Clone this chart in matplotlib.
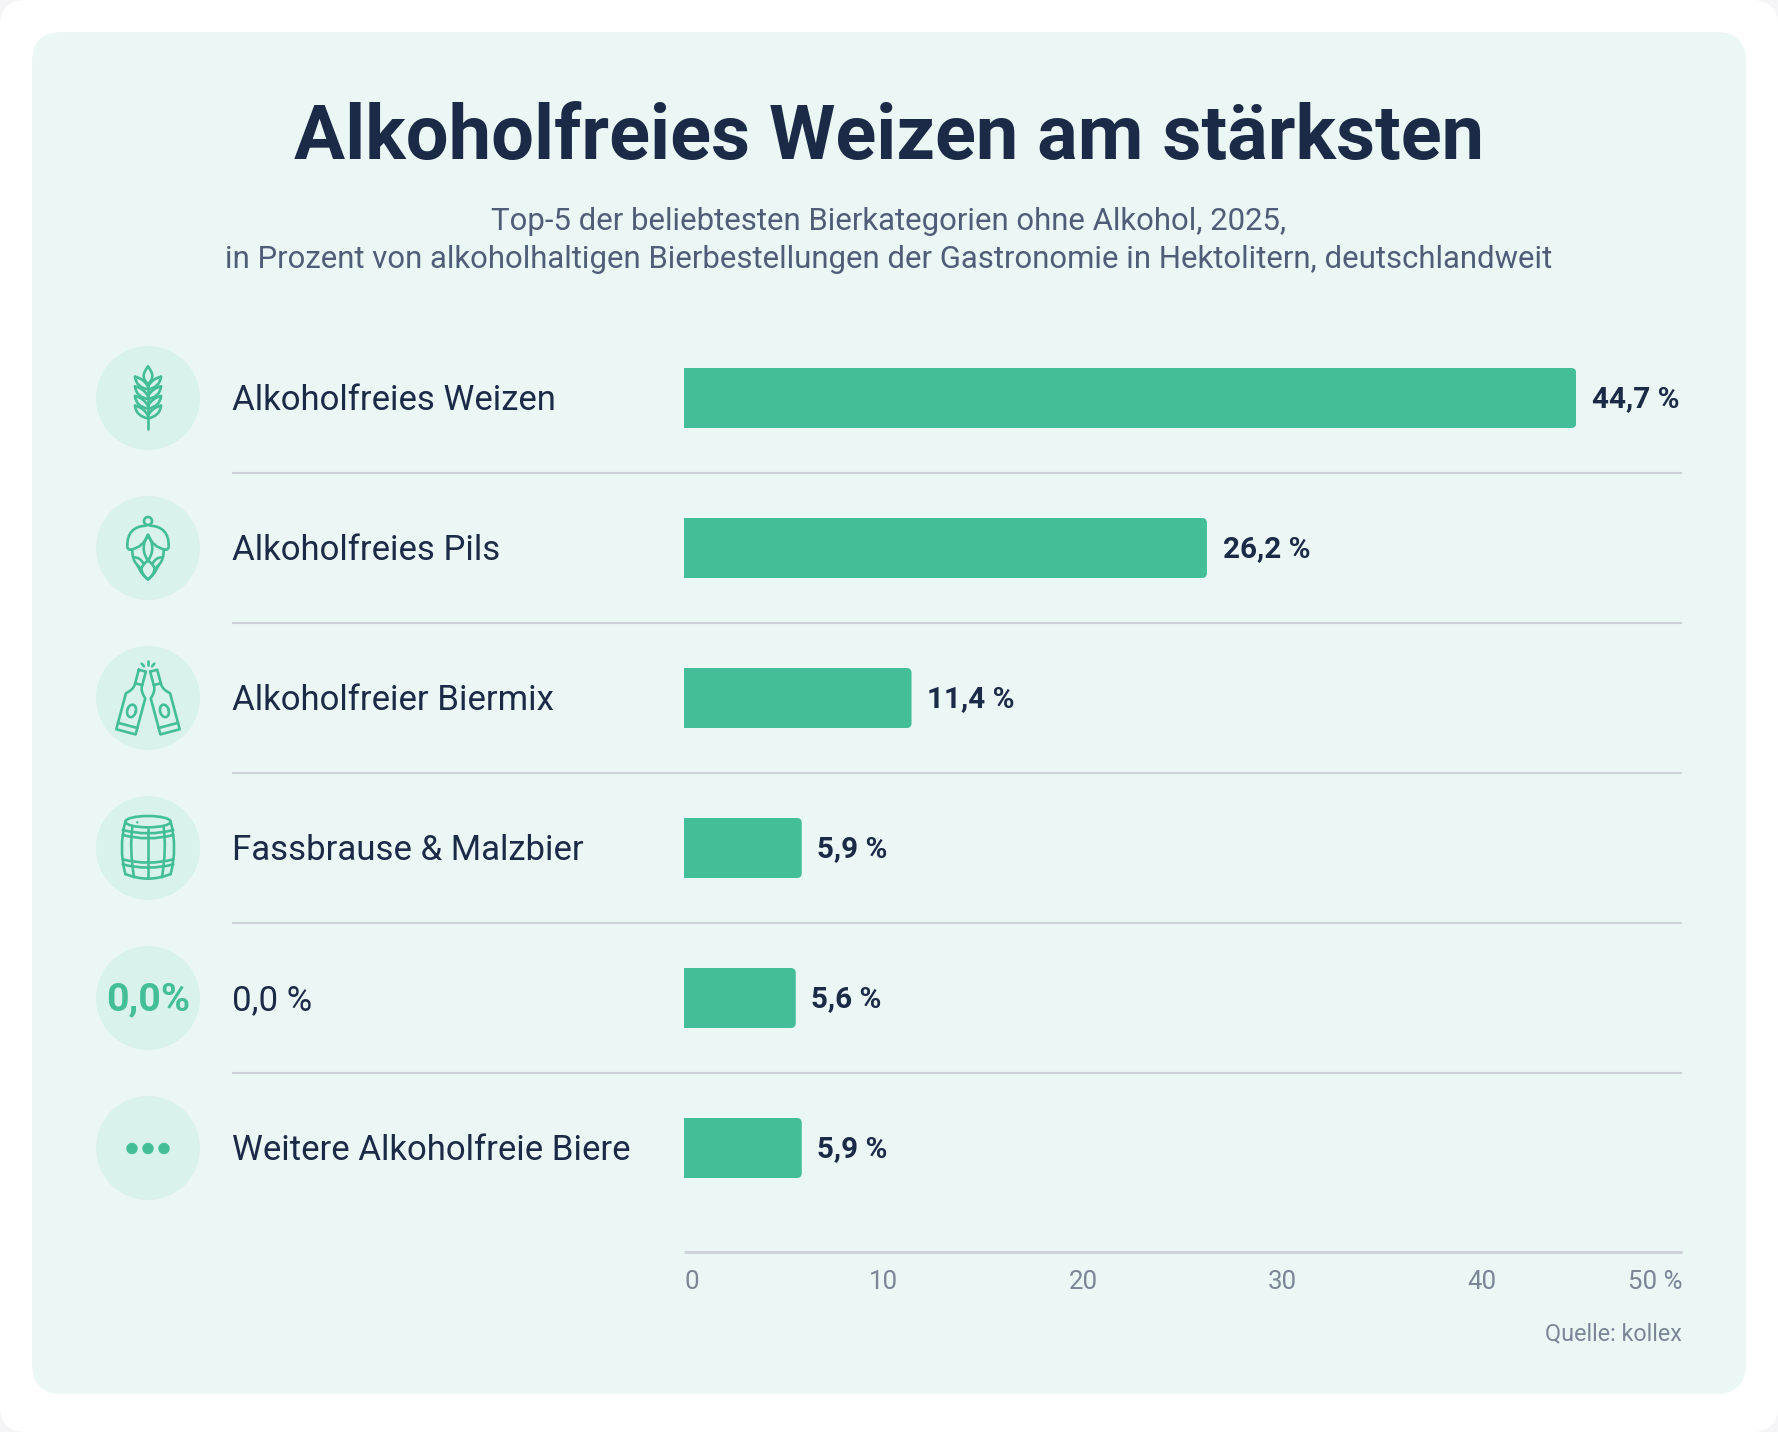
import numpy as np
import matplotlib
matplotlib.use("Agg")
import matplotlib.pyplot as plt
from matplotlib.patches import FancyBboxPatch, Circle, PathPatch, Ellipse
from matplotlib.path import Path
from matplotlib.transforms import ScaledTranslation

W, H = 1778, 1432
categories = ["Alkoholfreies Weizen", "Alkoholfreies Pils", "Alkoholfreier Biermix",
              "Fassbrause & Malzbier", "0,0 %", "Weitere Alkoholfreie Biere"]
values = [44.7, 26.2, 11.4, 5.9, 5.6, 5.9]
value_labels = ["44,7 %", "26,2 %", "11,4 %", "5,9 %", "5,6 %", "5,9 %"]
tick_values = [0, 10, 20, 30, 40, 50]
tick_labels = ["0", "10", "20", "30", "40", "50 %"]
title = "Alkoholfreies Weizen am stärksten"
subtitle = ["Top-5 der beliebtesten Bierkategorien ohne Alkohol, 2025,",
            "in Prozent von alkoholhaltigen Bierbestellungen der Gastronomie in Hektolitern, deutschlandweit"]
source = "Quelle: kollex"

PANEL = "#EBF7F5"; CIRCLE = "#D9F2EB"; GREEN = "#43BE98"; NAVY = "#1B2A47"
SUB = "#4F5D78"; GREY = "#7A8696"; RULE = "#CDD1D8"
FONT = "Roboto"
ICON_LW = 1.9
plt.rcParams["font.family"] = [FONT, "DejaVu Sans"]

fig = plt.figure(figsize=(W / 100, H / 100), dpi=100, facecolor="#F5F5F8")
bg = fig.add_axes([0, 0, 1, 1])
bg.set_xlim(0, W); bg.set_ylim(H, 0); bg.axis("off")

def rbox(ax, x0, y0, x1, y1, r, fc):
    ax.add_patch(FancyBboxPatch((x0, y0), x1 - x0, y1 - y0,
                                boxstyle=f"round,pad=0,rounding_size={r}", fc=fc, ec="none"))

rbox(bg, 0, 0, W, H, 26, "white")
rbox(bg, 32, 32, 1746, 1394, 30, PANEL)

bg.text(889, 138, title, ha="center", va="center", fontsize=54.6, fontweight="bold", color=NAVY)
bg.text(889, 221, subtitle[0], ha="center", va="center", fontsize=22.4, color=SUB)
bg.text(889, 259.5, subtitle[1], ha="center", va="center", fontsize=22.4, color=SUB)
bg.text(1682, 1334, source, ha="right", va="center", fontsize=16.8, color=GREY)

ROW0, STEP, CX, R = 398, 150, 148, 52
for i in range(1, len(categories)):
    yy = ROW0 + STEP * i - 75
    bg.plot([232, 1682], [yy, yy], color=RULE, lw=1.5, solid_capstyle="butt")
for i in range(len(categories)):
    bg.add_patch(Circle((CX, ROW0 + STEP * i), R, fc=CIRCLE, ec="none"))

# --- icons, drawn in crop coordinates of a 3x view -------------------------------
def stroke(off, start, *segs):
    verts, codes = [start], [Path.MOVETO]
    for s in segs:
        if len(s) == 2 and isinstance(s[0], tuple):
            verts += [s[0], s[1]]; codes += [Path.CURVE3, Path.CURVE3]
        else:
            verts.append(s); codes.append(Path.LINETO)
    v = np.array(verts, float) / 3 + np.array(off)
    bg.add_patch(PathPatch(Path(v, codes), fc="none", ec=GREEN, lw=ICON_LW,
                           capstyle="round", joinstyle="round"))

def both(off, start, *segs, axis=264):
    stroke(off, start, *segs)
    m = lambda p: (2 * axis - p[0], p[1])
    ms = [(m(s[0]), m(s[1])) if isinstance(s[0], tuple) else m(s) for s in segs]
    stroke(off, m(start), *ms)

# wheat
o = (60, 320)
stroke(o, (264, 140), ((238, 170), (264, 192)), ((290, 170), (264, 140)))
stroke(o, (264, 192), (264, 328))
for y in (170, 199, 228, 257):
    both(o, (225, y), ((252, y + 6), (264, y + 30)))
    both(o, (225, y), ((228, y + 32), (264, y + 38)))

# hop
o = (60, 470)
bg.add_patch(Circle((60 + 88, 470 + 153 / 3), 4, fc="none", ec=GREEN, lw=ICON_LW))
both(o, (258, 167), ((200, 170), (202, 230)), ((203, 240), (212, 239)), ((250, 232), (264, 195)))
stroke(o, (264, 195), ((238, 235), (264, 272)), ((290, 235), (264, 195)))
both(o, (217, 238), ((216, 270), (232, 285)), ((245, 315), (264, 328)))
both(o, (222, 262), ((240, 262), (250, 280)))
both(o, (264, 272), ((248, 282), (244, 297)), ((248, 318), (264, 328)))
both(o, (232, 285), (244, 297))

# clinking bottles
o = (60, 320)
def bottle(sign):
    a = np.deg2rad(15) * sign
    top = np.array([264 - 17 * sign, 1052.0])
    def t(p):
        u, v = p
        return tuple(top + np.array([u * np.cos(a) - v * np.sin(a), u * np.sin(a) + v * np.cos(a)]))
    stroke(o, t((-11, 0)), t((11, 0)), t((11, 45)), (t((11, 62)), t((30, 78))), t((30, 190)),
           t((-30, 190)), t((-30, 78)), (t((-11, 62)), t((-11, 45))), t((-11, 0)))
    stroke(o, t((-11, 42)), t((11, 42)))
    stroke(o, t((-30, 170)), t((30, 170)))
    k = np.linspace(0, 2 * np.pi, 40)
    e = [t((13 * np.cos(q), 125 + 19 * np.sin(q))) for q in k]
    stroke(o, e[0], *e[1:])
bottle(1); bottle(-1)
both(o, (245, 1031), (252, 1039))
stroke(o, (264, 1024), (264, 1036))

# barrel
o = (60, 770)
bg.add_patch(Ellipse((60 + 88, 770 + 155 / 3), 136 / 3, 34 / 3, fc="none", ec=GREEN, lw=ICON_LW))
both(o, (196, 155), ((175, 234), (196, 312)))
stroke(o, (196, 312), ((264, 340), (332, 312)))
for y in (180, 195, 268, 283):
    stroke(o, (188, y), ((264, y + 20), (340, y)))
stroke(o, (264, 178), (264, 325))
both(o, (217, 172), ((208, 234), (222, 322)))
bg.add_patch(Circle((60 + 232 / 3, 770 + 157 / 3), 1.2, fc=GREEN, ec="none"))

# zero and dots
bg.text(CX, ROW0 + STEP * 4 + 2, "0,0%", ha="center", va="center", fontsize=28.4, fontweight="bold", color=GREEN)
for dx in (-16, 0, 16):
    bg.add_patch(Circle((CX + dx, ROW0 + STEP * 5 + 0.5), 5.7, fc=GREEN, ec="none"))

# --- chart -----------------------------------------------------------------------
X0, X1, YTOP, YBOT = 684, 1682, ROW0 - 75, 1251.5
ax = fig.add_axes([X0 / W, 1 - YBOT / H, (X1 - X0) / W, (YBOT - YTOP) / H])
ax.patch.set_alpha(0)
ax.set_xlim(0, tick_values[-1])
ax.set_ylim((YBOT - ROW0) / STEP, -0.5)
y = np.arange(len(categories))
bars = ax.barh(y, values, height=60 / STEP, color=GREEN)
x_per_px = tick_values[-1] / (X1 - X0)
for b, yy, v, lab in zip(bars, y, values, value_labels):
    clip = FancyBboxPatch((-1, yy - 30 / STEP), v + 1, 60 / STEP,
                          boxstyle=f"round,pad=0,rounding_size={5 * x_per_px}",
                          mutation_aspect=(1 / STEP) / x_per_px, transform=ax.transData)
    b.set_clip_path(clip)
    ax.annotate(lab, (v, yy), xytext=(11.2, -0.8), textcoords="offset points", ha="left", va="center",
                fontsize=21.3, fontweight="bold", color=NAVY, annotation_clip=False)
for s in ("top", "left", "right"):
    ax.spines[s].set_visible(False)
ax.spines["bottom"].set_color(RULE); ax.spines["bottom"].set_linewidth(2.2)
ax.spines["bottom"].set_capstyle("butt")
ax.set_xticks(tick_values, tick_labels)
ax.tick_params(axis="x", length=0, pad=13, labelsize=18.6, labelcolor=GREY)
tl = ax.get_xticklabels()
tl[0].set_ha("left"); tl[-1].set_ha("right")
ax.set_yticks(y, categories)
ax.tick_params(axis="y", length=0, pad=(X0 - 232) * 0.72, labelsize=25, labelcolor=NAVY)
for t in ax.get_yticklabels():
    t.set_ha("left")
    t.set_transform(t.get_transform() + ScaledTranslation(0, 1.2 / 100, fig.dpi_scale_trans))

fig.savefig("out.png", dpi=100, facecolor=fig.get_facecolor())
